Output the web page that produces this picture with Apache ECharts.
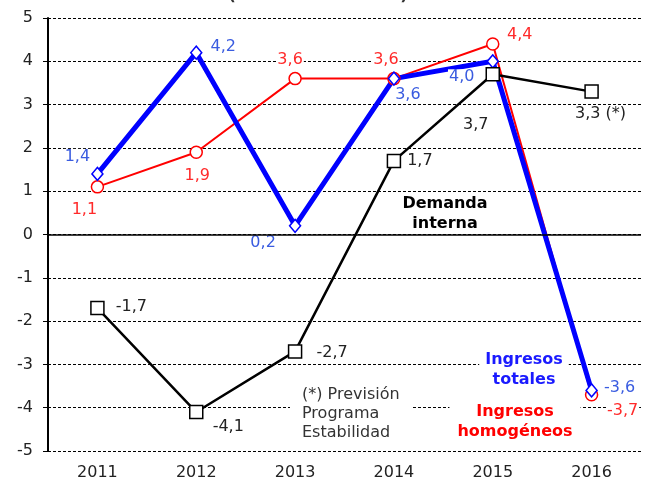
<!DOCTYPE html>
<html>
<head>
<meta charset="utf-8">
<script src="https://cdn.jsdelivr.net/npm/echarts@6/dist/echarts.min.js"></script>
<style>
  html, body { margin: 0; padding: 0; background: #fff; }
  #chart { width: 649px; height: 480px; }
</style>
</head>
<body>
<div id="chart"></div>
<script>
const years = ['2011', '2012', '2013', '2014', '2015', '2016'];
const ingresosTotales = [1.4, 4.2, 0.2, 3.6, 4.0, -3.6];
const ingresosHomogeneos = [1.1, 1.9, 3.6, 3.6, 4.4, -3.7];
const demandaInterna = [-1.7, -4.1, -2.7, 1.7, 3.7, 3.3];
const demandaSuffix = ['', '', '', '', '', ' (*)'];

// label offsets from the marker centre
const offTotales = [[-20, -17], [27, -6], [-32, 17], [14, 16], [-31, 16], [28, -3]];
const offHomog = [[-13, 23], [1, 24], [-5, -19], [-8, -19], [27, -9], [31, 16]];
const offDemanda = [[34, -1], [32, 15], [37, 1], [26, 0], [-17, 51], [9, 22]];

const FONT = 'DejaVu Sans';
const fmt = v => v.toFixed(1).replace('.', ',');

function buildData(values, offsets, suffix) {
  return values.map((v, i) => ({
    value: v,
    label: { offset: offsets[i], formatter: () => fmt(v) + (suffix ? suffix[i] : '') }
  }));
}

function labelStyle(color) {
  return {
    show: true,
    position: 'inside',
    align: 'center',
    verticalAlign: 'middle',
    color: color,
    fontSize: 16,
    fontFamily: FONT,
    backgroundColor: '#fff',
    padding: [0, 1]
  };
}

const chart = echarts.init(document.getElementById('chart'), null, { renderer: 'canvas' });

const option = {
  animation: false,
  grid: { left: 48, right: 8, top: 18, bottom: 29, outerBoundsMode: 'none' },
  xAxis: {
    type: 'category',
    data: years,
    boundaryGap: true,
    axisLine: { show: false },
    axisTick: { show: false },
    axisLabel: { color: '#222', fontSize: 16, fontFamily: FONT, margin: 14 }
  },
  yAxis: {
    type: 'value',
    min: -5,
    max: 5,
    interval: 1,
    axisLine: { show: true, lineStyle: { color: '#000', width: 2 } },
    axisTick: { show: true, length: 5, lineStyle: { color: '#000', width: 1 } },
    axisLabel: { color: '#222', fontSize: 16, fontFamily: FONT, margin: 15 },
    splitLine: { show: true, lineStyle: { color: '#000', width: 1, type: [3, 2] } }
  },
  graphic: [
    {
      type: 'text', x: 318, y: 4,
      style: {
        text: '(tasas de variación)', align: 'center', verticalAlign: 'bottom',
        fontSize: 16, fontWeight: 'bold', fontFamily: FONT, fill: '#333'
      }
    },
    {
      type: 'text', x: 445, y: 194,
      style: {
        text: 'Demanda\ninterna', align: 'center', verticalAlign: 'top', lineHeight: 20,
        fontSize: 16, fontWeight: 'bold', fontFamily: FONT, fill: '#000'
      }
    },
    {
      type: 'text', x: 524, y: 350, z: 5,
      style: {
        text: 'Ingresos\ntotales', align: 'center', verticalAlign: 'top', lineHeight: 20,
        fontSize: 16, fontWeight: 'bold', fontFamily: FONT, fill: '#1a1aff',
        backgroundColor: '#fff', padding: [0, 6]
      }
    },
    {
      type: 'text', x: 515, y: 402, z: 5,
      style: {
        text: 'Ingresos\nhomogéneos', align: 'center', verticalAlign: 'top', lineHeight: 20,
        fontSize: 16, fontWeight: 'bold', fontFamily: FONT, fill: '#ff0000',
        backgroundColor: '#fff', padding: [0, 8]
      }
    },
    {
      type: 'text', x: 290, y: 385, z: 5,
      style: {
        text: '(*) Previsión\nPrograma\nEstabilidad', align: 'left', verticalAlign: 'top', lineHeight: 19,
        fontSize: 16, fontFamily: FONT, fill: '#333',
        backgroundColor: '#fff', padding: [0, 12]
      }
    }
  ],
  series: [
    {
      name: 'Ingresos homogéneos',
      type: 'line',
      data: buildData(ingresosHomogeneos, offHomog),
      symbol: 'circle',
      symbolSize: 12,
      lineStyle: { color: '#ff0000', width: 2 },
      itemStyle: { color: '#fff', borderColor: '#ff0000', borderWidth: 1.5 },
      label: labelStyle('#ff2a2a'),
      markLine: {
        silent: true,
        symbol: 'none',
        label: { show: false },
        lineStyle: { color: '#000', width: 1.5, type: 'solid' },
        data: [{ yAxis: 0 }]
      }
    },
    {
      name: 'Ingresos totales',
      type: 'line',
      data: buildData(ingresosTotales, offTotales),
      symbol: 'diamond',
      symbolSize: [11, 13],
      lineStyle: { color: '#0000ff', width: 5 },
      itemStyle: { color: '#fff', borderColor: '#0000ff', borderWidth: 1.5 },
      label: labelStyle('#3a5ce0')
    },
    {
      name: 'Demanda interna',
      type: 'line',
      data: buildData(demandaInterna, offDemanda, demandaSuffix),
      symbol: 'rect',
      symbolSize: 13,
      lineStyle: { color: '#000', width: 2.5 },
      itemStyle: { color: '#fff', borderColor: '#000', borderWidth: 1.5 },
      label: labelStyle('#222')
    }
  ]
};

chart.setOption(option);
window.addEventListener('resize', () => chart.resize());
</script>
</body>
</html>
